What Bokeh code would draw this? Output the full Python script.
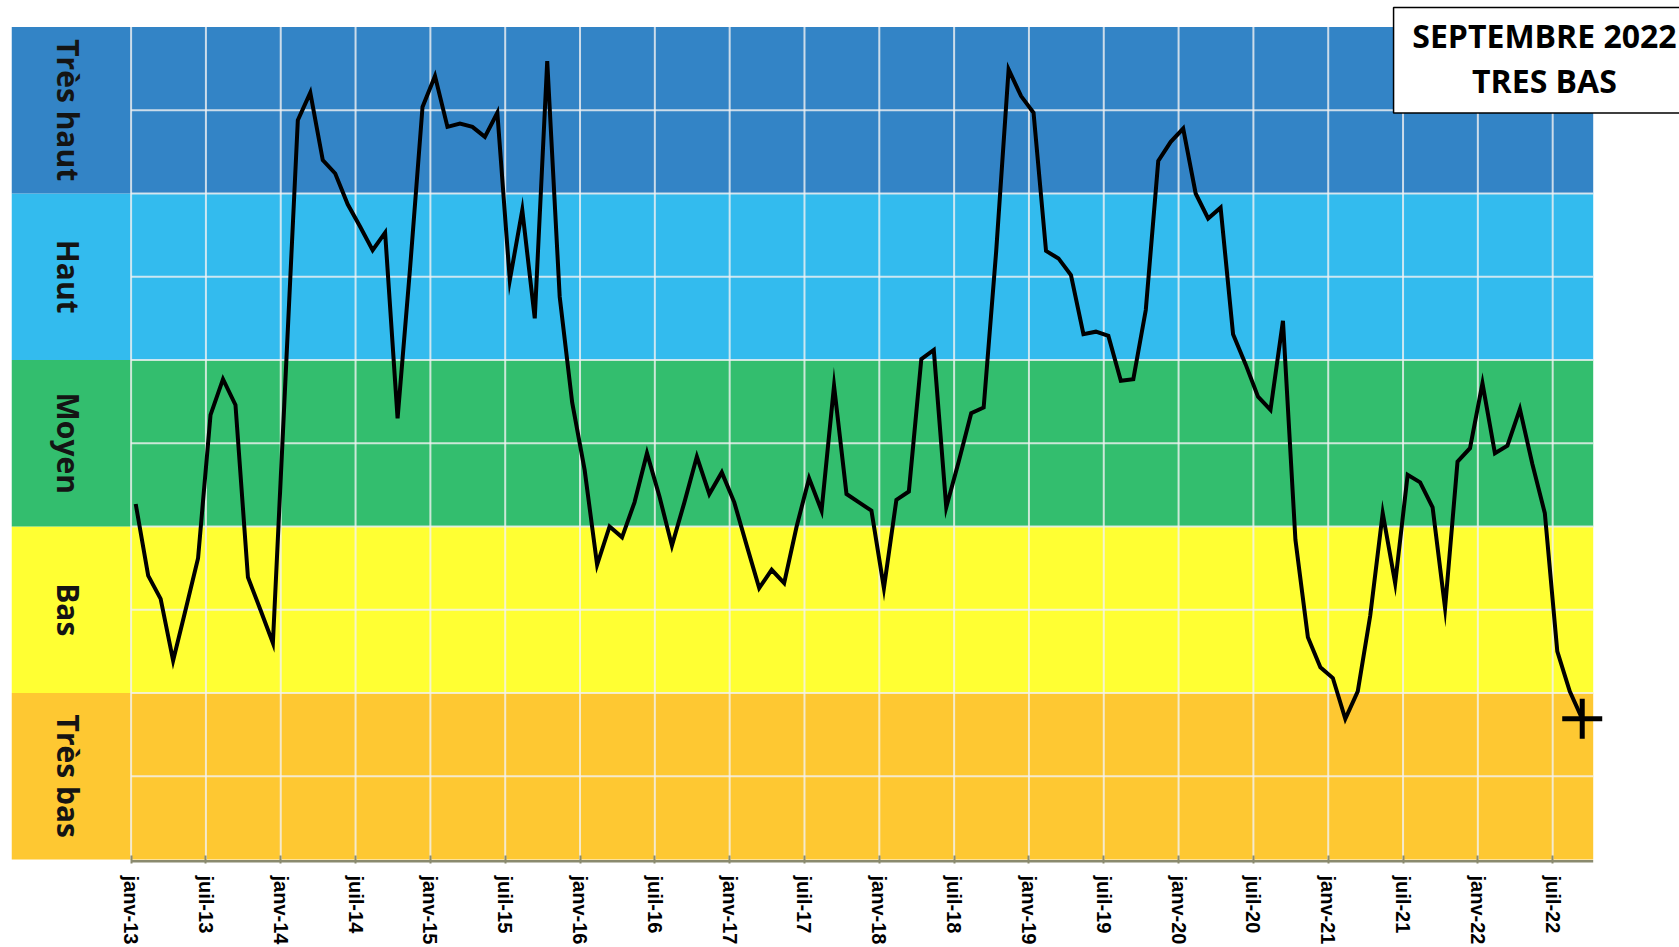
import math
from bokeh.plotting import figure
from bokeh.models import Range1d, FixedTicker
from bokeh.core.properties import value
from bokeh.embed import file_html
from bokeh.resources import INLINE

# ---------------- data ----------------
# monthly index values, janv-2013 .. sept-2022 (scale 0..10, 2 units per class)
levels = [
    4.27, 3.41, 3.13, 2.39, 3.00, 3.62, 5.34, 5.77, 5.46, 3.39, 3.00, 2.60,   # 2013
    5.74, 8.88, 9.21, 8.40, 8.24, 7.87, 7.60, 7.32, 7.53, 5.30, 7.10, 9.04,   # 2014
    9.41, 8.80, 8.84, 8.80, 8.68, 8.97, 6.96, 7.80, 6.50, 9.59, 6.76, 5.49,   # 2015
    4.68, 3.54, 4.00, 3.87, 4.29, 4.88, 4.36, 3.77, 4.29, 4.84, 4.39, 4.65,   # 2016
    4.29, 3.77, 3.26, 3.48, 3.32, 4.00, 4.58, 4.19, 5.69, 4.39, 4.29, 4.19,   # 2017
    3.26, 4.32, 4.42, 6.01, 6.12, 4.23, 4.78, 5.36, 5.43, 7.30, 9.49, 9.17,   # 2018
    8.97, 7.31, 7.22, 7.02, 6.31, 6.34, 6.29, 5.75, 5.77, 6.60, 8.39, 8.62,   # 2019
    8.78, 8.00, 7.70, 7.83, 6.31, 5.95, 5.56, 5.40, 6.47, 3.84, 2.67, 2.31,   # 2020
    2.18, 1.69, 2.02, 2.93, 4.16, 3.32, 4.62, 4.53, 4.23, 3.02, 4.78, 4.94,   # 2021
    5.72, 4.88, 4.97, 5.41, 4.75, 4.16, 2.50, 2.02, 1.69,                     # 2022
]

tick_labels = []
for yy in range(13, 23):
    tick_labels.append(f"janv-{yy}")
    tick_labels.append(f"juil-{yy}")

class_names = ["Très bas", "Bas", "Moyen", "Haut", "Très haut"]
class_colors = ["#FEC832", "#FFFF33", "#33BE6E", "#33BBEE", "#3384C6"]

title_lines = ["SEPTEMBRE 2022", "TRES BAS"]

# ---------------- layout constants ----------------
W, H = 1679, 947
X0, X1 = -9.591, 124.17          # frame in month units (0 = janv-13)
Y0, Y1 = -0.048, 10.318          # frame in class units
X_PLOT_END = 117.25
POINT_OFFSET = 0.37
LABEL_X = -5.06

months = [i + POINT_OFFSET for i in range(len(levels))]
tick_pos = [6 * k for k in range(len(tick_labels))]

p = figure(width=W, height=H,
           x_range=Range1d(X0, X1), y_range=Range1d(Y0, Y1),
           output_backend="svg", toolbar_location=None,
           y_axis_location=None, x_axis_location="below",
           min_border_left=11, min_border_right=0,
           min_border_top=0, min_border_bottom=83)
p.outline_line_color = None
p.background_fill_color = "white"
p.border_fill_color = "white"
p.xgrid.visible = False
p.ygrid.visible = False

# class bands (label column + plot area)
n = len(class_names)
p.quad(left=[X0] * n, right=[X_PLOT_END] * n,
       bottom=[2 * k for k in range(n)], top=[2 * k + 2 for k in range(n)],
       fill_color=class_colors, line_color=None)

# grid lines
hl = list(range(1, 10))
p.segment(x0=[0] * len(hl), x1=[X_PLOT_END] * len(hl), y0=hl, y1=hl,
          line_color="#f2f2f2", line_alpha=0.8, line_width=2)
p.segment(x0=tick_pos, x1=tick_pos, y0=[0] * len(tick_pos), y1=[10] * len(tick_pos),
          line_color="#f2f2f2", line_alpha=0.8, line_width=2)

# axis line
p.segment(x0=[0], x1=[X_PLOT_END], y0=[-0.02], y1=[-0.02],
          line_color="#8a8a6e", line_width=2.5)

# class labels
p.text(x=[LABEL_X] * n, y=[2 * k + 1 for k in range(n)], text=class_names,
       angle=-math.pi / 2, text_align="center", text_baseline="middle",
       text_font=value("Open Sans"), text_font_style="bold",
       text_font_size="30px", text_color="#141414")

# series
p.line(months, levels, line_color="black", line_width=4, line_join="miter")
p.scatter([months[-1]], [levels[-1]], marker="cross", size=40,
          line_color="black", line_width=5)

# title box
p.quad(left=[101.24], right=[126.5], bottom=[8.966], top=[10.234],
       fill_color="white", line_color="black", line_width=1.5)
p.text(x=[113.34, 113.34], y=[9.895, 9.355], text=title_lines,
       text_align="center", text_baseline="alphabetic",
       text_font=value("Open Sans"), text_font_style="bold",
       text_font_size="32px", text_color="black")

# x axis
ax = p.xaxis[0]
ax.ticker = FixedTicker(ticks=tick_pos, minor_ticks=[])
ax.major_label_overrides = {t: lab for t, lab in zip(tick_pos, tick_labels)}
ax.axis_line_color = None
ax.major_tick_line_color = "#8a8a6e"
ax.major_tick_line_width = 2
ax.major_tick_in = 8
ax.major_tick_out = 0
ax.minor_tick_line_color = None
ax.major_label_orientation = -math.pi / 2
ax.major_label_standoff = 12
ax.major_label_text_font = "Liberation Sans"
ax.major_label_text_font_style = "bold"
ax.major_label_text_font_size = "20px"
ax.major_label_text_color = "black"

open("out.html", "w").write(file_html(p, INLINE))
